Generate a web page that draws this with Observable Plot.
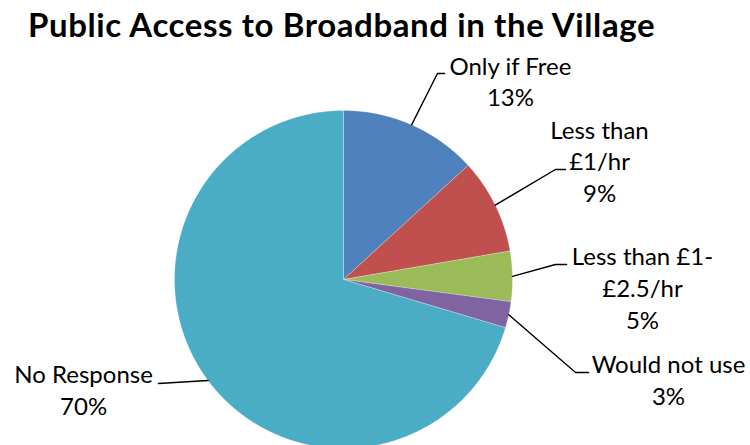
<!DOCTYPE html>
<html>
<head>
<meta charset="utf-8">
<script src="https://cdn.jsdelivr.net/npm/d3@7"></script>
<script src="https://cdn.jsdelivr.net/npm/@observablehq/plot@0.6"></script>
<style>
  html, body { margin: 0; padding: 0; background: #fff; width: 750px; height: 445px; overflow: hidden; }
  #title { font-family: Lato, "Open Sans", sans-serif; font-weight: bold; font-size: 33px; letter-spacing: 0.6px; color: #000;
           height: 50px; line-height: 48px; padding-left: 28px; white-space: nowrap; }
</style>
</head>
<body>
<div id="title">Public Access to Broadband in the Village</div>
<div id="chart"></div>
<script>
// ---- data ----
const categories = ["Only if Free", "Less than £1/hr", "Less than £1-£2.5/hr", "Would not use", "No Response"];
const values = [13.2, 9.1, 4.8, 2.5, 70.4];
const colors = ["#4F81BD", "#C0504D", "#9BBB59", "#8064A2", "#4BACC6"];
const labelText = [["Only if Free"], ["Less than", "£1/hr"], ["Less than £1-", "£2.5/hr"], ["Would not use"], ["No Response"]];

// ---- label layout (in pie-radius units, y up) ----
const labelLayout = [
  {elbow: [0.556, 1.219], end: [0.598, 1.219], tx: 0.988, ty: 1.213},
  {elbow: [1.254, 0.651], end: [1.314, 0.651], tx: 1.515, ty: 0.834},
  {elbow: [1.254, 0.089], end: [1.320, 0.089], tx: 1.769, ty: 0.083},
  {elbow: [1.373, -0.550], end: [1.450, -0.550], tx: 1.923, ty: -0.556},
  {elbow: null, end: [-1.095, -0.615], tx: -1.538, ty: -0.615}
];
const lineGap = 0.187;

// ---- build geometry from data ----
const total = d3.sum(values);
let acc = 0;
const slices = values.map((v, i) => {
  const a0 = acc / total * 2 * Math.PI;
  acc += v;
  const a1 = acc / total * 2 * Math.PI;
  const pts = [{x: 0, y: 0}];
  const n = Math.max(2, Math.ceil((a1 - a0) / (Math.PI / 360)));
  for (let k = 0; k <= n; k++) {
    const t = a0 + (a1 - a0) * k / n;
    pts.push({x: Math.sin(t), y: Math.cos(t)});
  }
  pts.push({x: 0, y: 0});
  return {name: categories[i], color: colors[i], pts, mid: (a0 + a1) / 2,
          pct: Math.round(v / total * 100) + "%"};
});

const leaders = [];
slices.forEach((s, i) => {
  const L = labelLayout[i];
  leaders.push({k: i, x: Math.sin(s.mid), y: Math.cos(s.mid)});
  if (L.elbow) leaders.push({k: i, x: L.elbow[0], y: L.elbow[1]});
  leaders.push({k: i, x: L.end[0], y: L.end[1]});
});

const textLines = [];
slices.forEach((s, i) => {
  const L = labelLayout[i];
  const lines = [...labelText[i], s.pct];
  lines.forEach((t, j) => textLines.push({x: L.tx, y: L.ty - j * lineGap, text: t}));
});

const chart = Plot.plot({
  width: 750,
  height: 395,
  margin: 0,
  style: {background: "#fff", overflow: "hidden"},
  x: {domain: [-1, 1], range: [174, 512], axis: null},
  y: {domain: [-1, 1], range: [398, 60], axis: null},
  marks: [
    ...slices.map(s => Plot.line(s.pts, {x: "x", y: "y", fill: s.color, stroke: "#ffffff", strokeWidth: 0.5, strokeOpacity: 0.5, curve: "linear"})),
    Plot.line(leaders, {x: "x", y: "y", z: "k", stroke: "#000", strokeWidth: 1.4, curve: "linear"}),
    Plot.text(textLines, {x: "x", y: "y", text: "text", textAnchor: "middle", lineAnchor: "bottom",
                          fontSize: 24, fontFamily: "Lato, 'Open Sans', sans-serif", fill: "#000"})
  ]
});
document.getElementById("chart").appendChild(chart);
</script>
</body>
</html>
